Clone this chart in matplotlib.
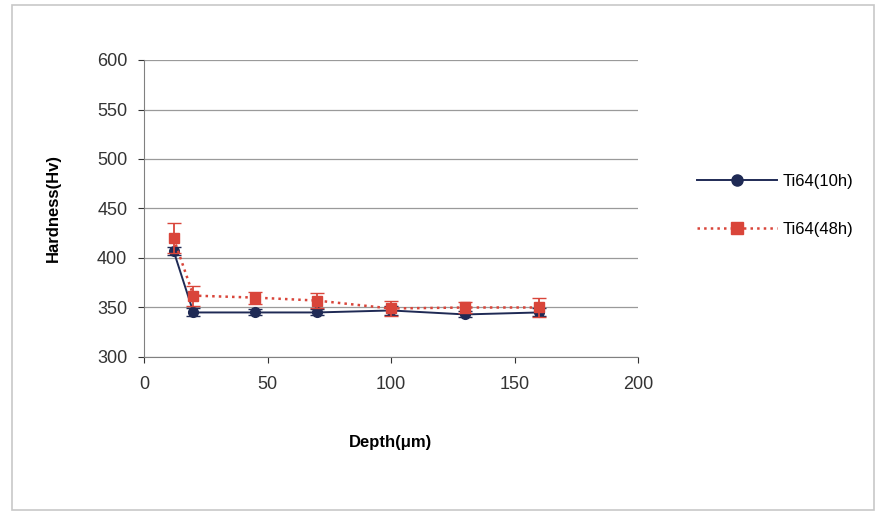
import matplotlib.pyplot as plt
from matplotlib.lines import Line2D
from matplotlib.patches import Rectangle

depth = [12, 20, 45, 70, 100, 130, 160]
hv_10h = [407, 345, 345, 345, 347, 343, 345]
err_10h = [4, 4, 3, 3, 5, 3, 4]
hv_48h = [420, 362, 360, 357, 349, 350, 350]
err_48h = [15, 10, 6, 8, 8, 6, 10]

plt.rcParams['font.family'] = ['Liberation Sans', 'DejaVu Sans']

c10 = '#1f2a55'
c48 = '#d9453a'

fig = plt.figure(figsize=(8.78, 5.13), dpi=100)
ax = fig.add_axes([144 / 878, 1 - 357 / 513, (638 - 144) / 878, (357 - 60) / 513])

# light frame around the chart
fig.patches.append(Rectangle((12 / 878, 3 / 513), 862 / 878, 505 / 513,
                             transform=fig.transFigure, fill=False,
                             edgecolor='#c8c8c8', linewidth=1.2))

ax.errorbar(depth, hv_10h, yerr=err_10h, color=c10, marker='o', markersize=7,
            linewidth=1.4, capsize=5, elinewidth=1.3, zorder=3)
ax.errorbar(depth, hv_48h, yerr=err_48h, color=c48, marker='s', markersize=7,
            linestyle=':', linewidth=1.8, capsize=5, elinewidth=1.3, zorder=4)

ax.set_xlim(0, 200)
ax.set_ylim(300, 600)
ax.set_xticks([0, 50, 100, 150, 200])
ax.set_yticks(range(300, 601, 50))
ax.yaxis.grid(True, color='#9a9a9a', linewidth=0.9)
ax.set_axisbelow(True)
for side in ['top', 'right']:
    ax.spines[side].set_visible(False)
for side in ['left', 'bottom']:
    ax.spines[side].set_color('#808080')
ax.tick_params(colors='#333333', labelsize=13, length=4, direction='out')
ax.tick_params(axis='y', pad=8)
ax.tick_params(axis='x', pad=10)

ax.set_xlabel('Depth(\u03bcm)', fontsize=12, fontweight='bold', labelpad=30)
ax.set_ylabel('Hardness(Hv)', fontsize=12, fontweight='bold', labelpad=26)

handles = [Line2D([], [], color=c10, marker='o', markersize=8, linewidth=1.4),
           Line2D([], [], color=c48, marker='s', markersize=8, linestyle=':', linewidth=1.8)]
ax.legend(handles, ['Ti64(10h)', 'Ti64(48h)'], loc='center left',
          bbox_to_anchor=(1.09, 0.51), frameon=False, fontsize=12,
          handlelength=4.8, handletextpad=0.3, labelspacing=2.0)

fig.savefig('out.png', dpi=100)
